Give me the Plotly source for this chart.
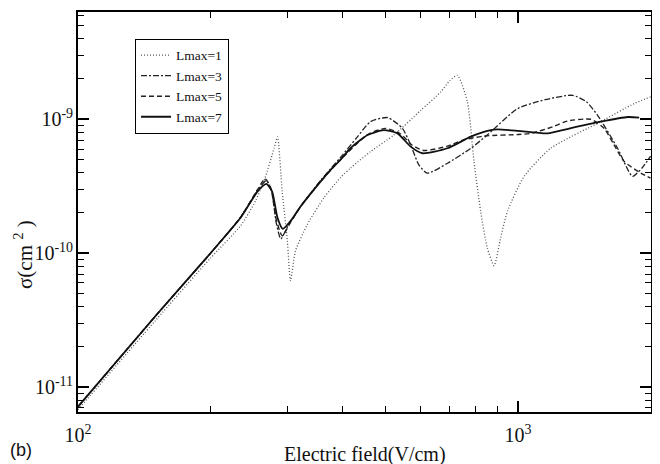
import plotly.graph_objects as go

# ---- data ----
E1 = [100, 150, 200, 234, 253, 266, 279, 284, 291, 299, 304, 312, 332, 362, 395, 416, 462, 522, 600, 667, 700, 728, 767, 794, 822, 851, 882, 913, 946, 1032, 1186, 1541, 1836, 2000]
S1 = [6.8e-12, 3.15e-11, 9.2e-11, 1.6e-10, 2.45e-10, 3.64e-10, 6.08e-10, 7.4e-10, 2.9e-10, 1.24e-10, 6.24e-11, 1.04e-10, 1.64e-10, 2.59e-10, 3.68e-10, 4.32e-10, 5.74e-10, 7.63e-10, 1.16e-9, 1.6e-9, 1.95e-9, 2.13e-9, 1.35e-9, 4.84e-10, 2.06e-10, 1.1e-10, 8.07e-11, 1.31e-10, 2.06e-10, 3.75e-10, 6.08e-10, 9.6e-10, 1.31e-9, 1.47e-9]

E3 = [100, 150, 200, 234, 256, 268, 276, 282, 289, 300, 321, 356, 395, 430, 462, 505, 546, 570, 595, 622, 691, 781, 851, 997, 1150, 1330, 1430, 1516, 1683, 1820, 1920, 2000]
S3 = [7.15e-12, 3.4e-11, 1.0e-10, 1.85e-10, 2.95e-10, 3.5e-10, 2.8e-10, 1.7e-10, 1.28e-10, 1.6e-10, 2.25e-10, 3.5e-10, 5.2e-10, 7.3e-10, 9.6e-10, 1.03e-9, 8.55e-10, 6.44e-10, 4.57e-10, 3.96e-10, 4.7e-10, 6.08e-10, 7.63e-10, 1.2e-9, 1.4e-9, 1.51e-9, 1.35e-9, 1.07e-9, 6.08e-10, 3.75e-10, 4.4e-10, 5.3e-10]

E5 = [100, 150, 200, 234, 256, 266, 274, 282, 291, 304, 321, 356, 395, 455, 500, 540, 575, 610, 691, 750, 837, 1000, 1069, 1200, 1294, 1463, 1569, 1650, 1742, 1901, 2000]
S5 = [7.15e-12, 3.4e-11, 1.0e-10, 1.85e-10, 3.0e-10, 3.6e-10, 3.1e-10, 1.8e-10, 1.35e-10, 1.7e-10, 2.25e-10, 3.44e-10, 5.0e-10, 7.7e-10, 8.55e-10, 7.8e-10, 6.4e-10, 5.85e-10, 6.3e-10, 7.0e-10, 7.5e-10, 7.7e-10, 7.85e-10, 8.8e-10, 9.7e-10, 1.0e-9, 8.55e-10, 6.5e-10, 4.84e-10, 3.96e-10, 3.64e-10]

E7 = [100, 150, 200, 234, 256, 268, 276, 284, 292, 304, 321, 356, 375, 395, 416, 455, 495, 532, 570, 606, 691, 781, 867, 898, 1000, 1167, 1300, 1541, 1774, 1884]
S7 = [7.15e-12, 3.4e-11, 1.0e-10, 1.84e-10, 2.9e-10, 3.29e-10, 2.9e-10, 1.84e-10, 1.52e-10, 1.74e-10, 2.25e-10, 3.44e-10, 4.2e-10, 5.0e-10, 6.08e-10, 7.63e-10, 8.3e-10, 7.85e-10, 6.25e-10, 5.58e-10, 6.08e-10, 7.42e-10, 8.3e-10, 8.4e-10, 8.2e-10, 7.85e-10, 8.5e-10, 9.6e-10, 1.04e-9, 1.03e-9]

names = ["Lmax=1", "Lmax=3", "Lmax=5", "Lmax=7"]

x_decades = [2, 3]
y_decades = [-11, -10, -9]

SERIF = "Liberation Serif, Times New Roman, serif"

fig = go.Figure()
series = [(E1, S1), (E3, S3), (E5, S5), (E7, S7)]
styles = [
    dict(color="#555555", width=1.3, dash="1px,2px"),
    dict(color="#222222", width=1.3, dash="6px,2px,2px,2px"),
    dict(color="#222222", width=1.4, dash="5px,3px"),
    dict(color="#111111", width=1.8, dash="solid"),
]
for (ex, sy), nm, st in zip(series, names, styles):
    fig.add_trace(go.Scatter(x=ex, y=sy, mode="lines", name=nm,
                             line=dict(shape="spline", smoothing=0.6, **st)))

axis_common = dict(type="log", showgrid=False, zeroline=False, showline=True,
                   linecolor="black", linewidth=1.5, mirror="allticks",
                   ticks="inside", ticklen=11, tickwidth=1.5, tickcolor="black",
                   tickmode="linear", tick0=0, dtick=1, exponentformat="power",
                   tickfont=dict(family=SERIF, size=16, color="#111"),
                   minor=dict(dtick="D1", ticks="inside", ticklen=6, tickwidth=1.2,
                              tickcolor="black", showgrid=False))

alias_y = {f"10<sup>\u2212{abs(d)}</sup>": f"10<sup>-{abs(d)}</sup>" for d in y_decades}

fig.update_xaxes(range=[2, 3.302], ticklabelstandoff=5, **axis_common)
fig.update_yaxes(range=[-11.185, -8.199], labelalias=alias_y, **axis_common)

# the page body has an 8px margin: the figure is sized to fit the 660x464 window
fig.update_layout(
    width=652, height=456,
    margin=dict(l=70, r=9, t=2, b=52),
    paper_bgcolor="white", plot_bgcolor="white",
    legend=dict(x=0.0995, y=0.933, xanchor="left", yanchor="top",
                bordercolor="black", borderwidth=1, bgcolor="white",
                font=dict(family=SERIF, size=13.5, color="#111"),
                itemwidth=30, tracegroupgap=0),
    annotations=[
        dict(text="Electric field(V/cm)", xref="paper", yref="paper", x=0.5, y=-0.106,
             xanchor="center", yanchor="middle", showarrow=False,
             font=dict(family=SERIF, size=20, color="#111")),
        dict(text="(b)", xref="paper", yref="paper", x=-0.1222, y=-0.126,
             xanchor="left", yanchor="bottom", showarrow=False,
             font=dict(family="Liberation Sans, Arial, sans-serif", size=18, color="#111")),
        dict(text="σ(cm <sup>2</sup> )", xref="paper", yref="paper", x=-0.096, y=0.395,
             xanchor="center", yanchor="middle", textangle=-90, showarrow=False,
             font=dict(family=SERIF, size=21, color="#111")),
    ],
)

fig.write_html("out.html")
